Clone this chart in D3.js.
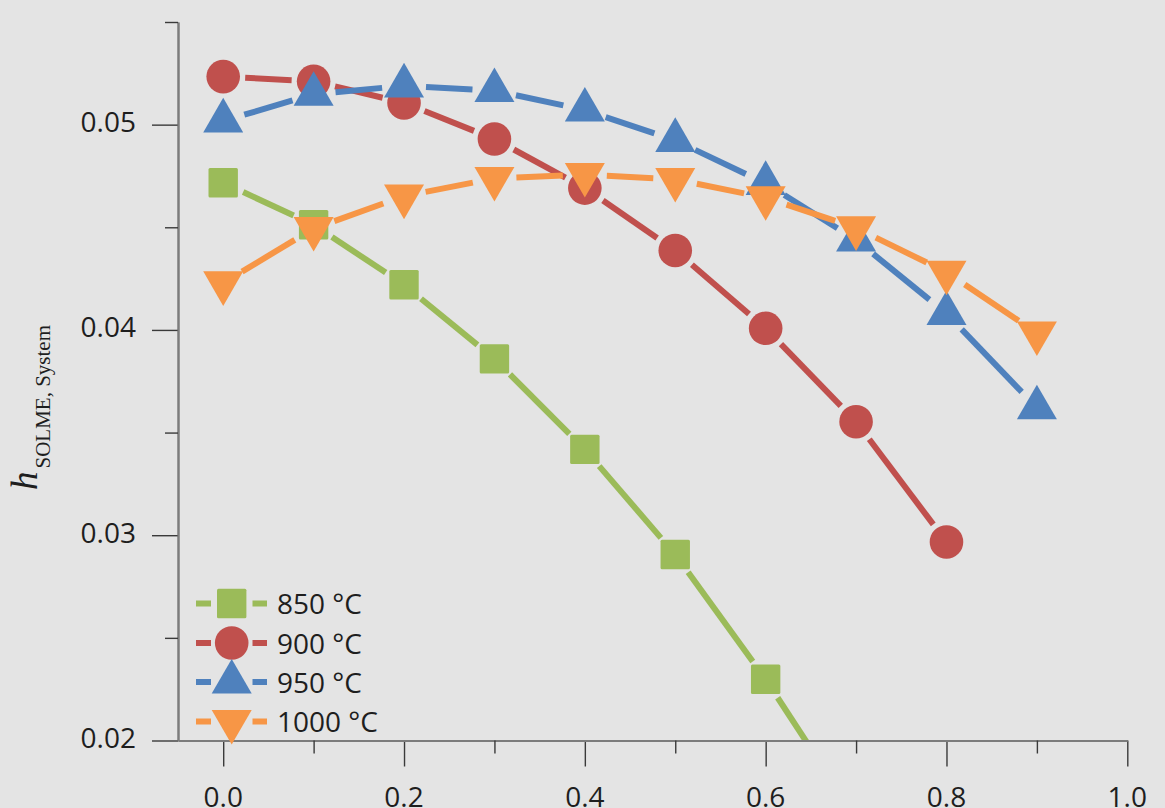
<!DOCTYPE html>
<html>
<head>
<meta charset="utf-8">
<script src="https://cdn.jsdelivr.net/npm/d3@7"></script>
<style>
  html, body { margin: 0; padding: 0; background: #e4e4e4; }
  svg { display: block; }
</style>
</head>
<body>
<svg id="chart" width="1165" height="808"></svg>
<script>
// ---------- data ----------
const xValues   = [0.0, 0.1, 0.2, 0.3, 0.4, 0.5, 0.6, 0.7, 0.8, 0.9];
const seriesNames = ["850 °C", "900 °C", "950 °C", "1000 °C"];
const h850  = [0.04717, 0.04512, 0.04220, 0.03859, 0.03418, 0.02906, 0.02298, 0.01624];
const h900  = [0.05234, 0.05211, 0.05106, 0.04930, 0.04691, 0.04387, 0.04008, 0.03553, 0.02967];
const h950  = [0.05018, 0.05148, 0.05189, 0.05166, 0.05071, 0.04923, 0.04714, 0.04438, 0.04080, 0.03621];
const h1000 = [0.04229, 0.04494, 0.04652, 0.04738, 0.04757, 0.04733, 0.04644, 0.04497, 0.04281, 0.03985];
const xMajorTicks = [0.0, 0.2, 0.4, 0.6, 0.8, 1.0];
const xMinorTicks = [0.1, 0.3, 0.5, 0.7, 0.9];
const yMajorTicks = [0.02, 0.03, 0.04, 0.05];
const yMinorTicks = [0.025, 0.035, 0.045, 0.055];
const xTickLabels = ["0.0", "0.2", "0.4", "0.6", "0.8", "1.0"];
const yTickLabels = ["0.02", "0.03", "0.04", "0.05"];

// ---------- styles ----------
const colors  = ["#9BBB59", "#C0504D", "#4F81BD", "#F79646"];
const shapes  = ["square", "circle", "triUp", "triDown"];
const seriesValues = [h850, h900, h950, h1000];

const svg = d3.select("#chart");
const x = d3.scaleLinear().domain([-0.05, 1.0]).range([178, 1127.3]);
const y = d3.scaleLinear().domain([0.02, 0.055]).range([740.5, 22]);

const tickFont = "'Open Sans', 'Noto Sans', sans-serif";
const textColor = "#1e1e1e";

// ---------- axes ----------
function styleAxis(g) {
  g.select(".domain").attr("stroke", "#7c7c7c").attr("stroke-width", 2);
  g.selectAll(".tick line").attr("stroke", "#3a3a3a").attr("stroke-width", 1.4);
}
svg.append("g").attr("transform", "translate(0,740.5)")
  .call(d3.axisBottom(x).tickValues(xMajorTicks).tickSize(26).tickSizeOuter(0).tickFormat(""))
  .call(styleAxis);
svg.append("g").attr("transform", "translate(0,740.5)")
  .call(d3.axisBottom(x).tickValues(xMinorTicks).tickSize(13).tickSizeOuter(0).tickFormat(""))
  .call(styleAxis);
svg.append("g").attr("transform", "translate(178,0)")
  .call(d3.axisLeft(y).tickValues(yMajorTicks).tickSize(26).tickSizeOuter(0).tickFormat(""))
  .call(styleAxis);
svg.append("g").attr("transform", "translate(178,0)")
  .call(d3.axisLeft(y).tickValues(yMinorTicks).tickSize(13).tickSizeOuter(0).tickFormat(""))
  .call(styleAxis);

svg.append("g").selectAll("text").data(xMajorTicks).join("text")
  .attr("x", d => x(d)).attr("y", 806.5)
  .attr("text-anchor", "middle")
  .attr("font-family", tickFont).attr("font-size", 28).attr("fill", textColor)
  .text((d, i) => xTickLabels[i]);

svg.append("g").selectAll("text").data(yMajorTicks).join("text")
  .attr("x", 136).attr("y", d => y(d) + 7.5)
  .attr("text-anchor", "end")
  .attr("font-family", tickFont).attr("font-size", 28).attr("fill", textColor)
  .text((d, i) => yTickLabels[i]);

// y-axis title
const title = svg.append("text")
  .attr("transform", "translate(37,490) rotate(-90)")
  .attr("font-family", "'Liberation Serif', 'DejaVu Serif', serif")
  .attr("fill", textColor);
title.append("tspan").attr("font-style", "italic").attr("font-size", 37).text("h");
title.append("tspan").attr("font-size", 21).attr("dy", 13).attr("dx", 3).text("SOLME, System");

// ---------- markers ----------
const TRI = 40; // triangle side
function markerPath(shape) {
  const h = TRI * Math.sqrt(3) / 2;
  if (shape === "triUp") {
    return `M0,${-2*h/3} L${TRI/2},${h/3} L${-TRI/2},${h/3} Z`;
  } else {
    return `M0,${2*h/3} L${TRI/2},${-h/3} L${-TRI/2},${-h/3} Z`;
  }
}
function drawMarker(g, shape, color, cx, cy) {
  if (shape === "square") {
    g.append("rect").attr("x", cx - 14.7).attr("y", cy - 14.7)
      .attr("width", 29.4).attr("height", 29.4).attr("rx", 1.5)
      .attr("fill", color);
  } else if (shape === "circle") {
    g.append("circle").attr("cx", cx).attr("cy", cy).attr("r", 16.8).attr("fill", color);
  } else {
    g.append("path").attr("d", markerPath(shape))
      .attr("transform", `translate(${cx},${cy})`).attr("fill", color);
  }
}

// ---------- series ----------
svg.append("clipPath").attr("id", "plotClip")
  .append("rect").attr("x", 179).attr("y", 0).attr("width", 1000).attr("height", 740);

const GAP = 22;
const plot = svg.append("g");
seriesValues.forEach((vals, si) => {
  const g = plot.append("g");
  const pts = vals.map((v, i) => [x(xValues[i]), y(v)]);
  const lineG = g.append("g").attr("clip-path", "url(#plotClip)");
  for (let i = 0; i < pts.length - 1; i++) {
    const [x1, y1] = pts[i], [x2, y2] = pts[i + 1];
    const dx = x2 - x1, dy = y2 - y1, len = Math.hypot(dx, dy);
    const ux = dx / len, uy = dy / len;
    lineG.append("line")
      .attr("x1", x1 + ux * GAP).attr("y1", y1 + uy * GAP)
      .attr("x2", x2 - ux * GAP).attr("y2", y2 - uy * GAP)
      .attr("stroke", colors[si]).attr("stroke-width", 6);
  }
  const mG = g.append("g").attr("clip-path", "url(#plotClip)");
  pts.forEach(([px, py]) => drawMarker(mG, shapes[si], colors[si], px, py));
});

// ---------- legend ----------
const legendRows = [603.5, 643, 682, 721.5];
const legend = svg.append("g");
seriesNames.forEach((name, i) => {
  const cy = legendRows[i];
  legend.append("line").attr("x1", 196).attr("x2", 211).attr("y1", cy).attr("y2", cy)
    .attr("stroke", colors[i]).attr("stroke-width", 6);
  legend.append("line").attr("x1", 252.5).attr("x2", 267).attr("y1", cy).attr("y2", cy)
    .attr("stroke", colors[i]).attr("stroke-width", 6);
  drawMarker(legend, shapes[i], colors[i], 231.7, cy);
  legend.append("text").attr("x", 277).attr("y", cy + 10.5)
    .attr("font-family", tickFont).attr("font-size", 28).attr("fill", textColor)
    .text(name);
});
</script>
</body>
</html>
